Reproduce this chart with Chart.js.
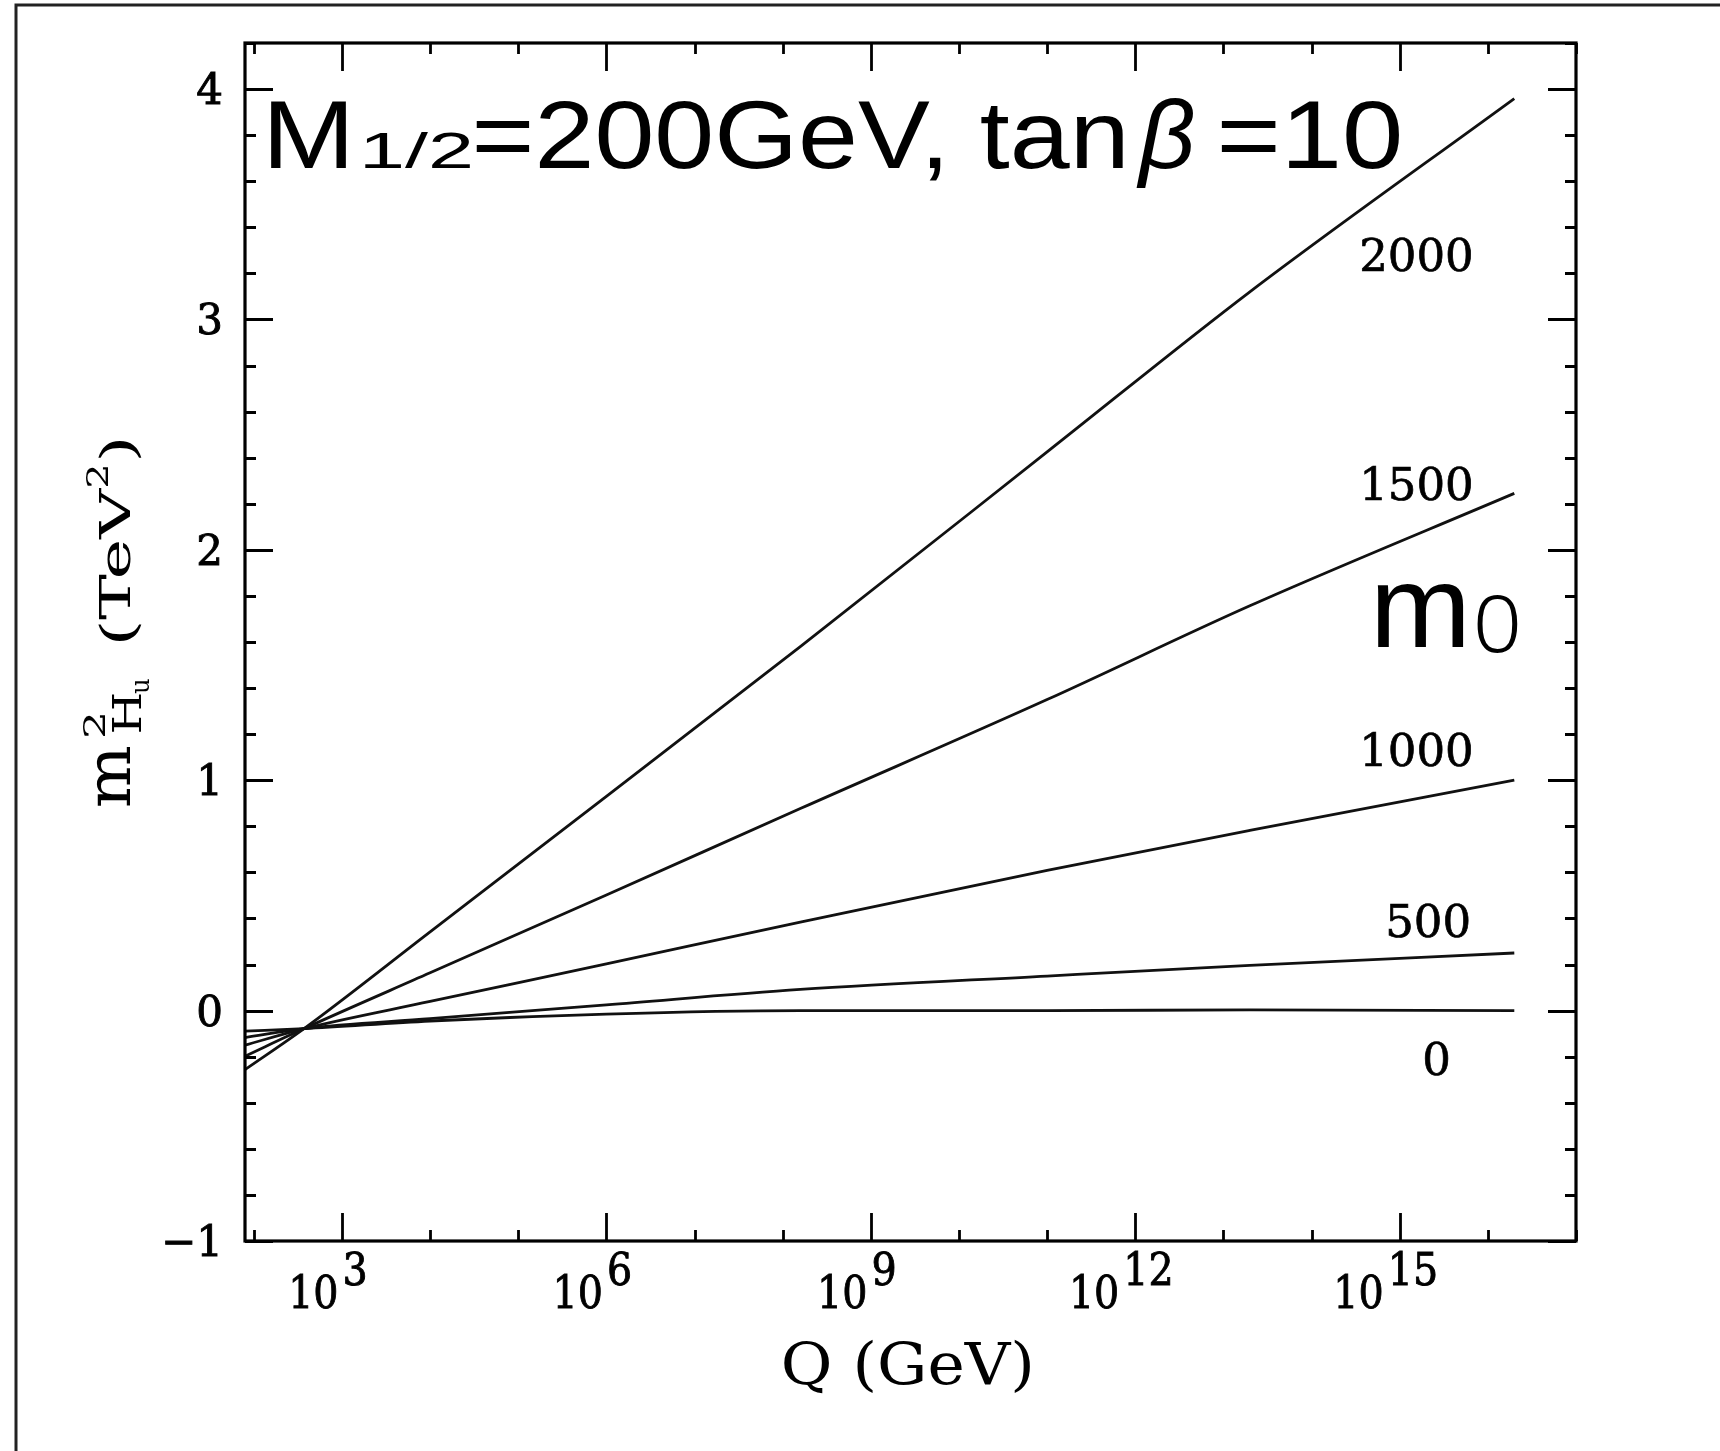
<!DOCTYPE html>
<html>
<head>
<meta charset="utf-8">
<script src="https://cdn.jsdelivr.net/npm/chart.js@4.4.0/dist/chart.umd.min.js"></script>
<style>
  html, body { margin: 0; padding: 0; background: #fff; overflow: hidden; }
  #wrap { width: 1720px; height: 1451px; }
</style>
</head>
<body>
<div id="wrap"><canvas id="c" width="1720" height="1451"></canvas></div>
<script>
// running of m_Hu^2 (TeV^2) vs log10(Q/GeV), one curve per m0 (GeV)
const logQ = [1.9, 2.57, 4, 6, 8.2, 11, 13.3, 16.3];
const m0Labels = ['2000', '1500', '1000', '500', '0'];
const mHu2_2000 = [-0.256, -0.078, 0.342, 0.930, 1.580, 2.425, 3.120, 3.959];
const mHu2_1500 = [-0.198, -0.078, 0.164, 0.502, 0.877, 1.350, 1.757, 2.245];
const mHu2_1000 = [-0.150, -0.078, 0.040, 0.203, 0.384, 0.609, 0.782, 1.000];
const mHu2_500 = [-0.117, -0.078, -0.035, 0.025, 0.092, 0.150, 0.196, 0.250];
const mHu2_0 = [-0.089, -0.078, -0.045, -0.015, 0.000, 0.000, 0.003, 0.000];
const curves = [mHu2_2000, mHu2_1500, mHu2_1000, mHu2_500, mHu2_0];

const yMajorTicks = [-1, 0, 1, 2, 3, 4];
const xMajorExps = [3, 6, 9, 12, 15];
const xMinorExps = [2, 4, 5, 7, 8, 10, 11, 13, 14, 16, 17];

// where each m0 label sits (right edge log10 Q, baseline value)
const labelAt = [[15.84, 3.21], [15.84, 2.215], [15.84, 1.06], [15.81, 0.318], [15.58, -0.28]];

const serif = '"DejaVu Serif", "Liberation Serif", serif';
const sans = '"Liberation Sans", Arimo, sans-serif';

// draw text squeezed/stretched so its ink spans [left, right]
function fitText(ctx, str, left, right, baseline, font) {
  ctx.save();
  ctx.font = font;
  ctx.textAlign = 'left';
  ctx.textBaseline = 'alphabetic';
  const m = ctx.measureText(str);
  const ink = m.actualBoundingBoxLeft + m.actualBoundingBoxRight;
  const sx = (right - left) / ink;
  ctx.translate(left, baseline);
  ctx.scale(sx, 1);
  ctx.fillText(str, m.actualBoundingBoxLeft, 0);
  ctx.restore();
}

// filled + thin stroke, the scanned serif digits are heavier than DejaVu
function heavyText(ctx, str, x, y) {
  ctx.fillText(str, x, y);
  ctx.strokeText(str, x, y);
}

const decor = {
  id: 'decor',
  afterDraw(chart) {
    const ctx = chart.ctx;
    const a = chart.chartArea;
    const xs = chart.scales.x, ys = chart.scales.y;
    ctx.save();
    ctx.fillStyle = '#000';
    ctx.strokeStyle = '#000';

    // frame
    ctx.lineWidth = 3.2;
    ctx.strokeRect(a.left, a.top, a.right - a.left, a.bottom - a.top);

    // ticks, all inward
    ctx.lineWidth = 2.8;
    ctx.beginPath();
    for (let v = -1; v <= 4.21; v += 0.2) {
      const yy = Math.round(ys.getPixelForValue(v)) + 0.5;
      const major = Math.abs(v - Math.round(v)) < 1e-6;
      const len = major ? 28 : 11;
      ctx.moveTo(a.left, yy); ctx.lineTo(a.left + len, yy);
      ctx.moveTo(a.right, yy); ctx.lineTo(a.right - len, yy);
    }
    xMajorExps.forEach(e => {
      const xx = Math.round(xs.getPixelForValue(e)) + 0.5;
      ctx.moveTo(xx, a.bottom); ctx.lineTo(xx, a.bottom - 28);
      ctx.moveTo(xx, a.top); ctx.lineTo(xx, a.top + 28);
    });
    xMinorExps.forEach(e => {
      const xx = Math.round(xs.getPixelForValue(e)) + 0.5;
      ctx.moveTo(xx, a.bottom); ctx.lineTo(xx, a.bottom - 11);
      ctx.moveTo(xx, a.top); ctx.lineTo(xx, a.top + 11);
    });
    ctx.stroke();

    // y tick labels
    ctx.lineWidth = 0.9;
    ctx.font = '42px ' + serif;
    ctx.textAlign = 'right';
    ctx.textBaseline = 'alphabetic';
    yMajorTicks.forEach(v => {
      const yy = ys.getPixelForValue(v);
      heavyText(ctx, v < 0 ? '\u2212' + Math.abs(v) : String(v), a.left - 22, yy + 15);
    });

    // x tick labels 10^n
    const sx = 0.9;
    ctx.textAlign = 'left';
    xMajorExps.forEach(e => {
      ctx.font = '44px ' + serif;
      const wb = ctx.measureText('10').width * sx;
      const we = ctx.measureText(String(e)).width * sx;
      const cx = xs.getPixelForValue(e) - 14;
      const x0 = cx - (wb + we + 4) / 2;
      ctx.save(); ctx.translate(x0, a.bottom + 67); ctx.scale(sx, 1); heavyText(ctx, '10', 0, 0); ctx.restore();
      ctx.save(); ctx.translate(x0 + wb + 4, a.bottom + 44); ctx.scale(sx, 1); heavyText(ctx, String(e), 0, 0); ctx.restore();
    });

    // x axis title
    fitText(ctx, 'Q (GeV)', 784, 1031, 1384, '58px ' + serif);

    // y axis title, rotated
    ctx.save();
    ctx.translate(129.5, 806);
    ctx.rotate(-Math.PI / 2);
    fitText(ctx, 'm', 0, 60, 0, '62px ' + serif);
    fitText(ctx, '2', 70, 92, -25, '30px ' + serif);
    fitText(ctx, 'H', 74, 112, 11, '40px ' + serif);
    fitText(ctx, 'u', 112, 127, 19, '26px ' + serif);
    fitText(ctx, '(', 164, 182, 4, '46px ' + serif);
    fitText(ctx, 'TeV', 186, 318, 0, '42px ' + serif);
    fitText(ctx, '2', 320, 340, -22, '30px ' + serif);
    fitText(ctx, ')', 348, 366, 4, '46px ' + serif);
    ctx.restore();

    // curve labels
    ctx.font = '45px ' + serif;
    ctx.textAlign = 'right';
    ctx.lineWidth = 0.7;
    m0Labels.forEach((t, i) => {
      heavyText(ctx, t, xs.getPixelForValue(labelAt[i][0]), ys.getPixelForValue(labelAt[i][1]));
    });

    // big annotations
    fitText(ctx, 'M', 270, 346, 168, '97px ' + sans);
    fitText(ctx, '1/2', 364, 471, 168, '50px ' + sans);
    fitText(ctx, '=200GeV, tan', 476, 1123, 168, '97px ' + sans);
    fitText(ctx, '\u03b2', 1136, 1194, 168, 'italic 97px ' + sans);
    fitText(ctx, '=10', 1221, 1400, 168, '97px ' + sans);
    fitText(ctx, 'm', 1377, 1463, 647, '116px ' + sans);
    fitText(ctx, '0', 1477, 1518, 652, '300 80px "Noto Sans", ' + sans);

    // page border
    ctx.lineWidth = 3;
    ctx.strokeStyle = '#222';
    ctx.beginPath();
    ctx.moveTo(16, 1451); ctx.lineTo(16, 5); ctx.lineTo(1720, 5);
    ctx.stroke();
    ctx.restore();
  }
};

new Chart(document.getElementById('c'), {
  type: 'line',
  data: {
    datasets: curves.map((vals, i) => ({
      label: m0Labels[i],
      data: logQ.map((q, j) => ({ x: q, y: vals[j] })),
      borderColor: '#111',
      borderWidth: 2.8,
      pointRadius: 0,
      fill: false,
      cubicInterpolationMode: 'monotone'
    }))
  },
  options: {
    responsive: false,
    animation: false,
    layout: { padding: { left: 245, right: 144, top: 43, bottom: 210 } },
    plugins: { legend: { display: false }, tooltip: { enabled: false } },
    scales: {
      x: { type: 'linear', min: 1.9, max: 17, display: false },
      y: { type: 'linear', min: -1, max: 4.2, display: false }
    }
  },
  plugins: [decor]
});
</script>
</body>
</html>
